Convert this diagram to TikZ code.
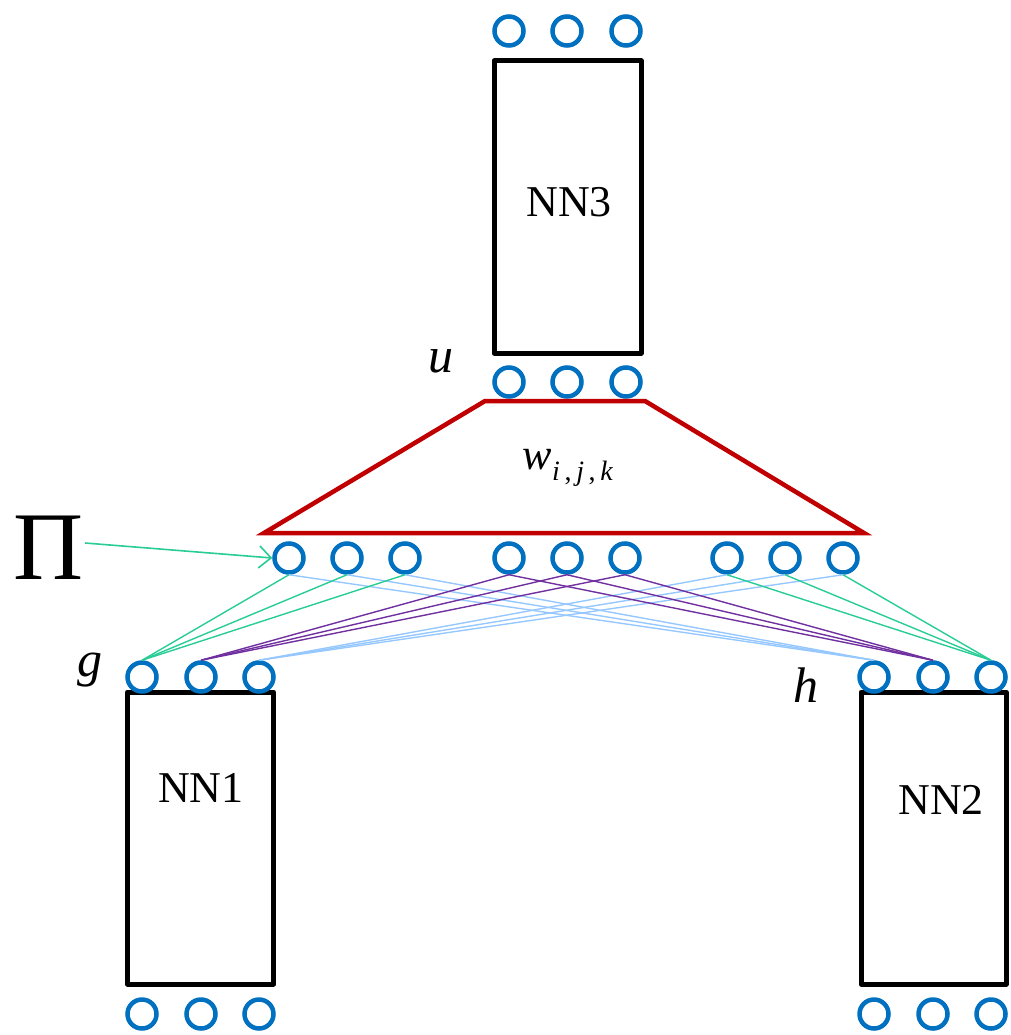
\documentclass[tikz,border=0pt]{standalone}
\usepackage{fontspec}
\setmainfont{Liberation Serif}
\usetikzlibrary{arrows.meta}
\definecolor{cblue}{RGB}{0,112,192}
\definecolor{cred}{RGB}{192,0,0}
\definecolor{cteal}{RGB}{40,205,150}
\definecolor{cpurple}{RGB}{112,48,160}
\definecolor{clight}{RGB}{150,200,255}
\tikzset{
  unit/.style={circle,draw=cblue,line width=4.5pt,minimum size=29pt,inner sep=0pt},
  netbox/.style={draw=black,line width=5pt,line join=round,inner sep=0pt},
  lbl/.style={font=\fontsize{44}{50}\selectfont},
  varlbl/.style={font=\fontsize{50}{56}\selectfont\itshape},
  wire/.style={line width=1.4pt},
}
\begin{document}
\begin{tikzpicture}[x=1pt,y=-1pt]
\useasboundingbox (0,0) rectangle (1010,1035);
% NN3
\node[netbox,minimum width=147pt,minimum height=292pt] (nn3) at (567.5,207) {};
\node[lbl] (t3) at (569,202) {NN3};
\foreach \i/\x in {1/509,2/567,3/626} {
  \node[unit] (o\i) at (\x,31) {};
  \node[unit] (u\i) at (\x,382) {};
}
\node[varlbl] (ul) at (441,361) {u};
% trapezoid
\coordinate (tl) at (485,401);
\coordinate (tr) at (645,401);
\coordinate (br) at (864,533);
\coordinate (bl) at (264,533);
\draw[cred,line width=4.5pt,line join=miter] (tl) -- (tr) -- (br) -- (bl) -- cycle;
\node (wl) at (568,468) {\fontsize{44}{50}\selectfont\textit{w}\raisebox{-11pt}{\fontsize{28}{30}\selectfont\textit{i}\,,\,\textit{j}\,,\,\textit{k}}};
% product layer
\foreach \i/\x in {1/289,2/347,3/405,4/509,5/567,6/625,7/727,8/785,9/843} {
  \node[unit] (p\i) at (\x,558) {};
}
% NN1 / NN2
\node[netbox,minimum width=146pt,minimum height=292pt] (nn1) at (200.5,838) {};
\node[lbl] (t1) at (201,788) {NN1};
\node[netbox,minimum width=145pt,minimum height=292pt] (nn2) at (933.5,838) {};
\node[lbl] (t2) at (941,800) {NN2};
\foreach \i/\x in {1/142,2/201,3/259} {
  \node[unit] (g\i) at (\x,677) {};
  \node[unit] (a\i) at (\x,1014) {};
}
\foreach \i/\x in {1/874,2/933,3/991} {
  \node[unit] (h\i) at (\x,677) {};
  \node[unit] (b\i) at (\x,1014) {};
}
\node[varlbl] (gl) at (90,670) {g};
\node[varlbl] (hl) at (806,685) {h};
% Pi label
\node[font=\fontsize{97}{100}\selectfont] (pi) at (49,548) {Π};
\draw[cteal,line width=1.6pt,-{Straight Barb[length=12pt,width=22pt,line width=1.6pt]}] (85,543) -- (p1.west);
% wires
\foreach \i in {1,2,3} {
  \draw[wire,clight] (p\i.south) -- (h1.north);
}
\foreach \i in {7,8,9} {
  \draw[wire,clight] (p\i.south) -- (g3.north);
}
\foreach \i in {4,5,6} {
  \draw[wire,cpurple] (p\i.south) -- (g2.north);
  \draw[wire,cpurple] (p\i.south) -- (h2.north);
}
\foreach \i in {1,2,3} {
  \draw[wire,cteal] (p\i.south) -- (g1.north);
}
\foreach \i in {7,8,9} {
  \draw[wire,cteal] (p\i.south) -- (h3.north);
}
\end{tikzpicture}
\end{document}
